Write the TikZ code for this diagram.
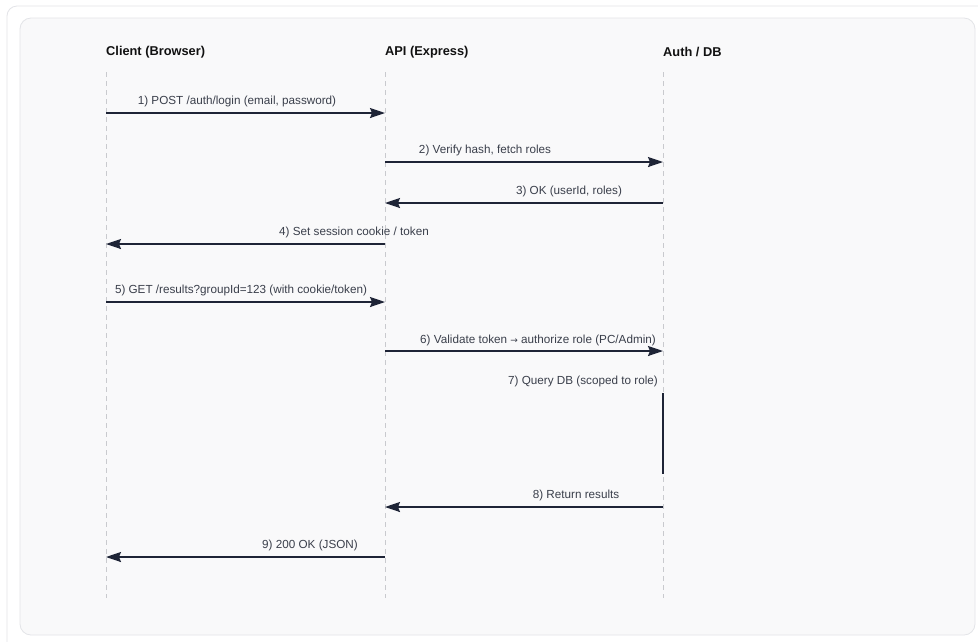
\documentclass[tikz,border=0pt]{standalone}
\usepackage{fontspec}
\setmainfont{Liberation Sans}
\newfontfamily\arrowfont{DejaVu Sans}
\usetikzlibrary{arrows.meta}
\definecolor{panelfill}{HTML}{F9F9FA}
\definecolor{panelline}{HTML}{E3E4E8}
\definecolor{lifeline}{HTML}{C9CACE}
\definecolor{msgline}{HTML}{1E2436}
\definecolor{labeltext}{HTML}{3A3F4B}
\definecolor{headtext}{HTML}{111111}
\tikzset{
  header/.style={anchor=west, inner sep=0pt, font=\bfseries\fontsize{12.8}{14}\selectfont, text=headtext},
  msglabel/.style={inner sep=0pt, font=\fontsize{11.7}{13}\selectfont, text=labeltext},
  lifelinestyle/.style={draw=lifeline, line width=1pt, dash pattern=on 5pt off 4pt},
  msg/.style={draw=msgline, line width=1.6pt, -{Stealth[length=15pt,width=10pt,inset=2pt]}},
  activation/.style={draw=msgline, line width=2pt}
}
\begin{document}
\begin{tikzpicture}[x=1pt,y=-1pt]
\useasboundingbox (0,0) rectangle (978,641);
\clip (0,0) rectangle (978,641);
\fill[white] (0,0) rectangle (978,641);
% outer frame
\draw[panelline, line width=0.8pt, rounded corners=10pt] (7,6) rectangle (1000,670);
% panel
\draw[panelline, fill=panelfill, line width=0.8pt, rounded corners=11pt] (20,18) rectangle (975,635);

% headers
\node[header] (hc) at (106,52) {Client (Browser)};
\node[header] (ha) at (385,52) {API (Express)};
\node[header] (hd) at (663,52) {Auth / DB};

% lifelines
\coordinate (ct) at (106,72); \coordinate (cb) at (106,598);
\coordinate (at) at (385,72); \coordinate (ab) at (385,598);
\coordinate (dt) at (663,72); \coordinate (db) at (663,598);
\draw[lifelinestyle] (ct) -- (cb);
\draw[lifelinestyle] (at) -- (ab);
\draw[lifelinestyle] (dt) -- (db);

% message endpoints
\coordinate (c1) at (106,113); \coordinate (a1) at (385,113);
\coordinate (a2) at (385,162); \coordinate (d2) at (663,162);
\coordinate (d3) at (663,203); \coordinate (a3) at (385,203);
\coordinate (a4) at (385,244); \coordinate (c4) at (106,244);
\coordinate (c5) at (106,302); \coordinate (a5) at (385,302);
\coordinate (a6) at (385,351); \coordinate (d6) at (663,351);
\coordinate (d7s) at (663,393); \coordinate (d7e) at (663,474);
\coordinate (d8) at (663,507); \coordinate (a8) at (385,507);
\coordinate (a9) at (385,557); \coordinate (c9) at (106,557);

\draw[msg] (c1) -- (a1);
\draw[msg] (a2) -- (d2);
\draw[msg] (d3) -- (a3);
\draw[msg] (a4) -- (c4);
\draw[msg] (c5) -- (a5);
\draw[msg] (a6) -- (d6);
\draw[activation] (d7s) -- (d7e);
\draw[msg] (d8) -- (a8);
\draw[msg] (a9) -- (c9);

% labels
\node[msglabel] (l1) at (237,101) {1) POST /auth/login (email, password)};
\node[msglabel] (l2) at (485,150) {2) Verify hash, fetch roles};
\node[msglabel] (l3) at (569,191) {3) OK (userId, roles)};
\node[msglabel] (l4) at (354,232) {4) Set session cookie / token};
\node[msglabel] (l5) at (241,290) {5) GET /results?groupId=123 (with cookie/token)};
\node[msglabel] (l6) at (538,340) {6) Validate token {\arrowfont\fontsize{9}{11}\selectfont →} authorize role (PC/Admin)};
\node[msglabel] (l7) at (583,381) {7) Query DB (scoped to role)};
\node[msglabel] (l8) at (576,495) {8) Return results};
\node[msglabel] (l9) at (310,545) {9) 200 OK (JSON)};
\end{tikzpicture}
\end{document}
